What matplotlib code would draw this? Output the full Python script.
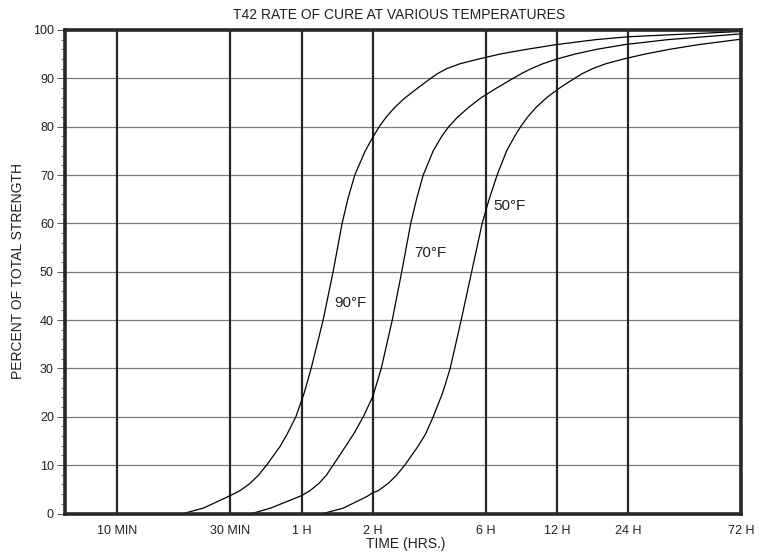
import matplotlib
matplotlib.use("Agg")
import matplotlib.pyplot as plt
from matplotlib.ticker import FixedLocator, FixedFormatter, NullLocator, MultipleLocator

plt.rcParams['font.family'] = ['Liberation Sans', 'DejaVu Sans']

# ---- data ----
tick_hours = [1/6, 0.5, 1, 2, 6, 12, 24, 72]
tick_labels = ["10 MIN", "30 MIN", "1 H", "2 H", "6 H", "12 H", "24 H", "72 H"]

t90 = [0.3161, 0.3839, 0.4896, 0.5486, 0.6045, 0.6567, 0.7111, 0.8093, 0.8706, 0.9457,
       1.0271, 1.0973, 1.2331, 1.3591, 1.4833, 1.5678, 1.6782, 1.8586, 2.009, 2.1296,
       2.2796, 2.476, 2.7421, 3.0964, 3.5136, 3.7611, 4.105, 4.658, 5.6031, 6.8722,
       7.7981, 8.935, 12.0, 17.476, 24.0, 72.0]
p90 = [0, 1.1, 3.5, 4.7, 6.2, 7.9, 10, 13.8, 16.5, 20,
       25, 30, 40, 50, 60, 65, 70, 75, 78, 80,
       82, 84, 86, 88, 90, 91, 92, 93, 94, 95,
       95.5, 96, 97, 98, 98.6, 99.7]

t70 = [0.6165, 0.738, 1.0, 1.0835, 1.1826, 1.272, 1.3591, 1.5302, 1.662, 1.8228,
       2.0, 2.1715, 2.4165, 2.6504, 2.8927, 3.0606, 3.2665, 3.6001, 3.9103, 4.1856,
       4.5684, 5.084, 5.741, 6.6746, 7.8361, 8.5112, 9.3347, 10.439, 12.0, 14.248,
       17.647, 23.395, 35.193, 72.0]
p70 = [0, 1.1, 3.7, 4.7, 6.2, 7.9, 10, 13.8, 16.5, 20,
       24.2, 30, 40, 50, 60, 65, 70, 75, 78, 80,
       82, 84, 86, 88, 90, 91, 92, 93, 94, 95,
       96, 97, 98, 99.2]

t50 = [1.2331, 1.4979, 1.8859, 2.0, 2.1049, 2.3198, 2.5197, 2.7288, 3.0964, 3.3469,
       3.6001, 3.9484, 4.2471, 4.7266, 5.2345, 5.7971, 6.2053, 6.7072, 7.3563, 7.9513,
       8.4289, 9.0226, 9.7999, 10.853, 12.315, 14.248, 15.4, 16.973, 19.261, 22.945,
       28.142, 35.885, 48.038, 72.0]
p50 = [0, 1.1, 3.5, 4.3, 4.7, 6.2, 7.9, 10, 13.8, 16.5,
       20, 25, 30, 40, 50, 60, 65, 70, 75, 78,
       80, 82, 84, 86, 88, 90, 91, 92, 93, 94,
       95, 96, 97, 98.1]

curve_labels = ["90°F", "70°F", "50°F"]
label_pos_t = [1.372, 2.98, 6.44]
label_pos_p = [43.5, 53.9, 63.6]

# ---- figure ----
W, H = 775, 554
fig = plt.figure(figsize=(W/100, H/100), dpi=100)
ax = fig.add_axes([65/W, 1-513.5/H, 676/W, 483.5/H])
ax.set_xscale('log')
ax.set_xlim(0.1, 72)
ax.set_ylim(0, 100)

txt = '#231f20'

# horizontal grid lines
ax.yaxis.set_major_locator(MultipleLocator(10))
ax.yaxis.set_minor_locator(MultipleLocator(2))
ax.grid(axis='y', which='major', color='#7a7a7a', lw=0.9, zorder=1)
ax.set_axisbelow(True)

# vertical thick lines at ticks
ax.xaxis.set_major_locator(FixedLocator(tick_hours))
ax.xaxis.set_major_formatter(FixedFormatter(tick_labels))
ax.xaxis.set_minor_locator(NullLocator())
for t in tick_hours:
    ax.axvline(t, color='#2a2526', lw=1.6, zorder=2)

for tt, pp in [(t90, p90), (t70, p70), (t50, p50)]:
    ax.plot(tt, pp, color='black', lw=0.9, zorder=3, clip_on=False,
            solid_joinstyle='round')

for lab, lt, lp in zip(curve_labels, label_pos_t, label_pos_p):
    ax.text(lt, lp, lab, fontsize=11, color=txt, ha='left', va='center', zorder=4)

for s in ax.spines.values():
    s.set_linewidth(2.6)
    s.set_color('#2a2526')
    s.set_zorder(5)

ax.tick_params(axis='x', length=0, pad=8, labelsize=9, labelcolor=txt)
ax.tick_params(axis='y', which='major', length=6, width=0.7, color='#555555',
               labelsize=9, labelcolor=txt, pad=2)
ax.tick_params(axis='y', which='minor', length=3, width=0.6, color='#555555')

fig.text(399/W, 1-15/H, "T42 RATE OF CURE AT VARIOUS TEMPERATURES",
         ha='center', va='center', fontsize=10, color=txt)
fig.text(18/W, 1-271/H, "PERCENT OF TOTAL STRENGTH", rotation=90,
         ha='center', va='center', fontsize=10, color=txt)
fig.text(406/W, 1-544/H, "TIME (HRS.)", ha='center', va='center',
         fontsize=10, color=txt)

fig.savefig("out.png", dpi=100, facecolor='white')
